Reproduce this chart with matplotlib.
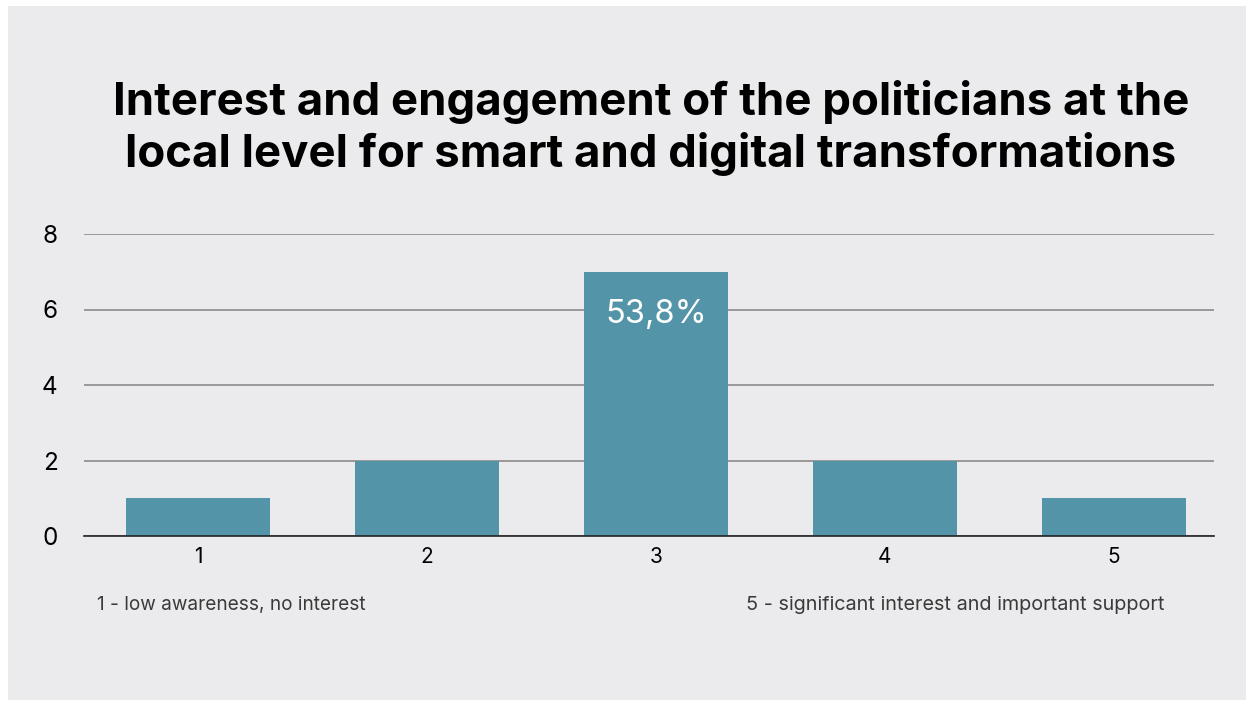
import matplotlib.pyplot as plt
from matplotlib.patches import Rectangle

# Svarfordeling (antall respondenter per skalaverdi)
categories = ['1', '2', '3', '4', '5']
counts = [1, 2, 7, 2, 1]
bar_labels = {2: '53,8%'}

title = 'Interest and engagement of the politicians at the\nlocal level for smart and digital transformations'
note_left = '1 - low awareness, no interest'
note_right = '5 - significant interest and important support'

bg = '#EBEBED'
bar_color = '#5494A8'

plt.rcParams['font.family'] = ['Inter', 'DejaVu Sans']

fig = plt.figure(figsize=(12.52, 7.04), dpi=100)
fig.patch.set_facecolor('white')
# grå bakgrunnsflate med hvit kant
fig.add_artist(Rectangle((8/1252, 4/704), 1238/1252, 694/704,
                         transform=fig.transFigure, facecolor=bg,
                         edgecolor='none', zorder=0))

ax = fig.add_axes([84/1252, 1 - 536/704, 1130/1252, 302/704])
ax.set_facecolor(bg)
ax.patch.set_alpha(0)

x = list(range(len(categories)))
ax.bar(x, counts, width=0.63, color=bar_color, zorder=3)
for i, txt in bar_labels.items():
    ax.text(x[i], counts[i] - 1.12, txt, ha='center', va='center',
            color='white', fontsize=23.5, zorder=4)

ax.set_xlim(-0.498, 4.437)
ax.set_ylim(0, 8)
ax.set_yticks([0, 2, 4, 6, 8])
ax.set_xticks(x)
ax.set_xticklabels(categories, fontsize=15)
ax.tick_params(axis='y', labelsize=17.5, length=0, pad=19)
ax.tick_params(axis='x', length=0, pad=8)
ax.grid(axis='y', color='#8a8a8a', linewidth=1.2, zorder=1)
for s in ['top', 'right', 'left']:
    ax.spines[s].set_visible(False)
ax.spines['bottom'].set_color('#222222')
ax.spines['bottom'].set_linewidth(1.2)
ax.spines['bottom'].set_zorder(5)

fig.text(651/1252, 1 - 128/704, title, ha='center', va='center',
         fontsize=32.8, fontweight='bold', linespacing=1.2)
fig.text(97/1252, 1 - 605/704, note_left, ha='left', va='center',
         fontsize=13.7, color='#3a3a3a')
fig.text(746/1252, 1 - 605/704, note_right, ha='left', va='center',
         fontsize=14.25, color='#3a3a3a')

fig.savefig('out.png', dpi=100)
